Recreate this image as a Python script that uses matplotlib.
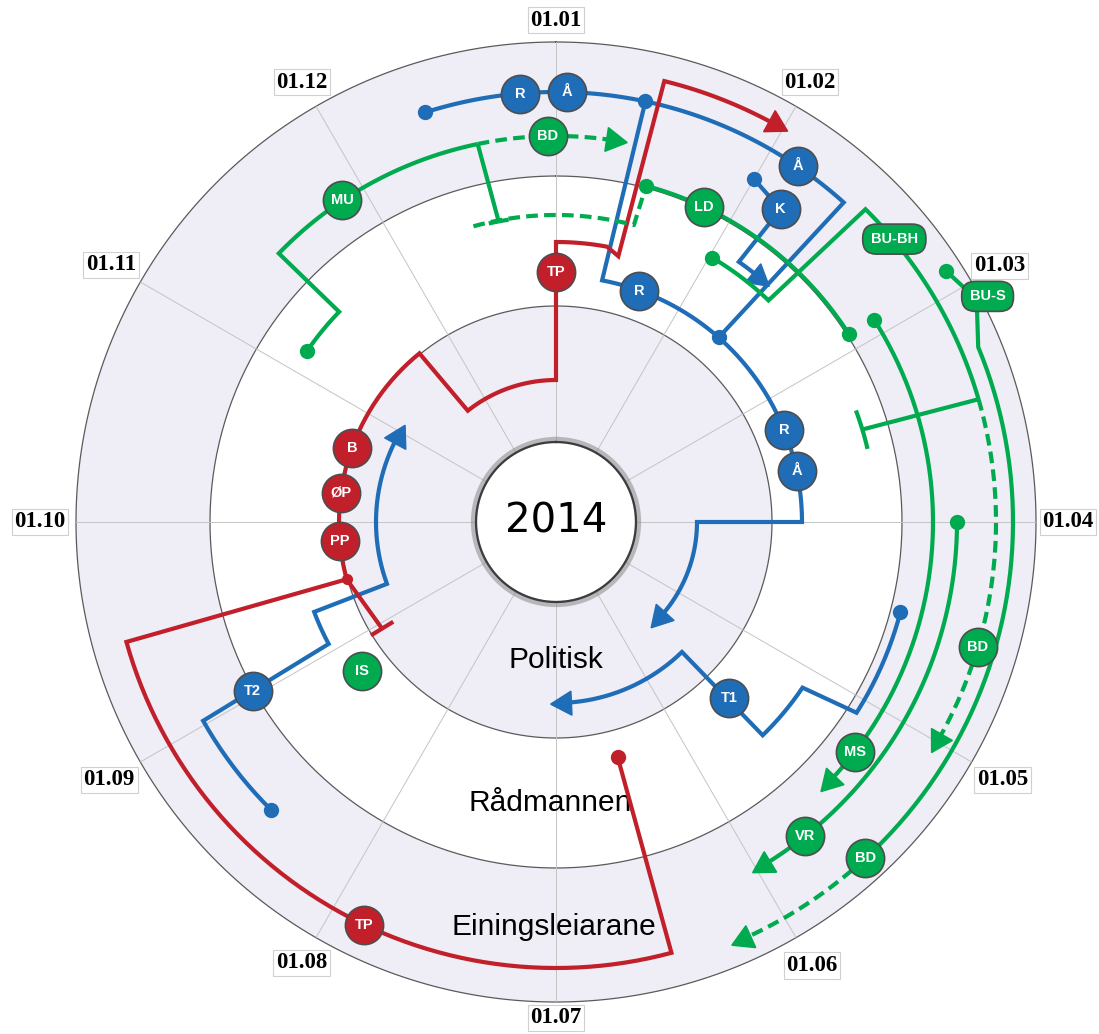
import numpy as np
import matplotlib
matplotlib.use('Agg')
import matplotlib.pyplot as plt

BLUE = '#1f6db6'
RED = '#c1202b'
GREEN = '#00aa4f'
RING = '#efedf5'
EDGE = '#4d4d4d'

# month labels round the wheel (01.01 at the top, clockwise)
months = ['01.01', '01.02', '01.03', '01.04', '01.05', '01.06',
          '01.07', '01.08', '01.09', '01.10', '01.11', '01.12']
month_label_r = [502, 508, 512, 512, 516, 512, 496, 509, 516, 516, 514, 508]

# ring boundaries and names
ring_r = [80, 216, 346, 480]
ring_names = ['Politisk', 'Rådmannen', 'Einingsleiarane']
ring_name_pos = [(6.00, 138), (6.04, 281), (6.01, 405)]

# paths as (month, radius) waypoints
blue_top = [(-0.59, 430), (1.40, 430), (1.38, 246)]
blue_mid = [(0.40, 430), (0.36, 246), (3.00, 246), (3.00, 141), (4.53, 141)]
blue_k = [(1.00, 396), (1.19, 385), (1.17, 318), (1.37, 318)]
blue_t1 = [(3.49, 356), (4.08, 356), (4.13, 297), (4.53, 297), (4.53, 181), (6.01, 181)]
blue_t2 = [(7.49, 405), (8.02, 405), (8.06, 258), (8.32, 258), (8.33, 180), (10.04, 180)]

red_top = [(0.00, 250), (0.00, 280), (0.35, 280), (0.44, 273), (0.46, 454), (1.00, 454)]
red_left = [(0.00, 250), (0.00, 142), (-1.28, 142), (-1.30, 217), (-3.51, 217), (-4.05, 204)]
red_bottom = [(-3.51, 217), (-3.52, 446), (-6.50, 446), (-6.49, 243)]

green_mu = [(-1.85, 302), (-1.53, 302), (-1.53, 386), (-0.39, 386)]
green_mu_dash = [(-0.39, 386), (0.33, 386)]
green_mu_stop = [(-0.39, 386), (-0.36, 306)]
green_ld_dash = [(-0.52, 307), (0.49, 307), (0.50, 348)]
green_ld = [(0.50, 348), (1.91, 348)]
green_bh = [(1.02, 307), (1.46, 307), (1.49, 440), (2.46, 440)]
green_bh_dash = [(2.46, 440), (4.03, 440)]
green_bh_stop = [(2.46, 440), (2.44, 320)]
green_ms = [(1.92, 377), (4.49, 377)]
green_vr = [(3.00, 401), (5.00, 401)]
green_bus = [(1.91, 464), (2.07, 476), (2.25, 457), (4.58, 457)]
green_bus_dash = [(4.58, 457), (5.23, 457)]

# small end / junction dots
dots_blue = [(-0.59, 430), (0.40, 430), (1.38, 246), (1.00, 396), (3.49, 356), (7.49, 405)]
dots_red = [(-6.49, 243)]
dots_red_small = [(-3.51, 217)]
dots_green = [(-1.85, 302), (0.50, 348), (1.91, 348), (1.02, 307), (1.92, 377), (3.00, 401), (1.91, 464)]

# labelled nodes
node_labels = ['R', 'Å', 'Å', 'K', 'R', 'R', 'Å', 'T1', 'T2',
               'TP', 'B', 'ØP', 'PP', 'TP',
               'MU', 'BD', 'LD', 'IS', 'BD', 'MS', 'VR', 'BD']
node_month = [-0.16, 0.05, 1.14, 1.19, 0.66, 2.27, 2.60, 4.52, 8.03,
              0.00, 9.66, 9.26, 8.83, 6.85,
              10.88, 11.96, 0.84, 7.75, 3.55, 4.25, 4.72, 4.58]
node_r = [430, 430, 430, 385, 246, 246, 246, 247, 347,
          250, 217, 217, 217, 446,
          386, 386, 348, 245, 440, 377, 401, 457]
node_col = [BLUE] * 9 + [RED] * 5 + [GREEN] * 8

pill_labels = ['BU-BH', 'BU-S']
pill_month = [1.67, 2.08]
pill_r = [441, 487]


def m2t(m):
    return np.asarray(m, dtype=float) * np.pi / 6


def trace(pts):
    th, rr = [], []
    for (m0, r0), (m1, r1) in zip(pts[:-1], pts[1:]):
        if r0 == r1:
            n = max(2, int(abs(m1 - m0) * 60))
            sm = np.linspace(m0, m1, n)
            sr = np.full(n, float(r0))
        else:
            sm = np.array([m0, m1])
            sr = np.array([r0, r1], dtype=float)
        th.extend(m2t(sm))
        rr.extend(sr)
    return th, rr


def draw(ax, pts, color, dashed=False, arrow=False):
    pts = list(pts)
    if arrow:
        (m0, r0), (m1, r1) = pts[-2], pts[-1]
        sgn = np.sign(m1 - m0)
        mc = m1 - sgn * 9 / (r1 * np.pi / 6)
        pts[-1] = (mc, r1)
    th, rr = trace(pts)
    ls = (0, (2.8, 1.5)) if dashed else '-'
    ax.plot(th, rr, color=color, lw=3, ls=ls, solid_capstyle='butt',
            dash_capstyle='butt', solid_joinstyle='miter', zorder=3, clip_on=False)
    if arrow:
        theta = mc * 30
        phi = -theta if sgn > 0 else 180 - theta
        ax.plot(m2t(mc), r1, marker=(3, 0, phi - 90), ms=20, color=color,
                mec=color, zorder=3, clip_on=False)


def tcap(ax, m, r, color, half, orient):
    if orient == 'radial':
        ax.plot(m2t([m, m]), [r - half, r + half], color=color, lw=3, zorder=3)
    else:
        dm = half / (r * np.pi / 6)
        th = m2t(np.linspace(m - dm, m + dm, 10))
        ax.plot(th, np.full(10, r), color=color, lw=3, zorder=3)


fig = plt.figure(figsize=(10.99, 10.34), dpi=100)
ax = fig.add_axes([0.069154, 0.030948, 0.873522, 0.928433], projection='polar')
ax.set_theta_zero_location('N')
ax.set_theta_direction(-1)
ax.set_ylim(0, 480)
ax.set_axis_off()

# rings
ring_cols = [RING, 'white', RING]
for i, c in enumerate(ring_cols):
    ax.bar(0, ring_r[i + 1] - ring_r[i], width=2 * np.pi, bottom=ring_r[i],
           align='edge', color=c, lw=0, zorder=0)

full = np.linspace(0, 2 * np.pi, 400)
for rr_ in ring_r[1:]:
    ax.plot(full, np.full(400, rr_), color='#5a5a5a', lw=0.9, zorder=1, clip_on=False)

# spokes
for k in range(12):
    ax.plot(m2t([k, k]), [ring_r[0], ring_r[-1]], color='#c4c4c4', lw=0.7, zorder=1)

# centre disc
ax.bar(0, ring_r[0], width=2 * np.pi, bottom=0, align='edge', color='white', lw=0, zorder=1.2)
ax.plot(full, np.full(400, ring_r[0] + 2), color='#8a8a8a', lw=4.5, alpha=0.55, zorder=1.3)
ax.plot(full, np.full(400, ring_r[0]), color='#3c3c3c', lw=1.6, zorder=1.4)
ax.text(0, 0, '2014', ha='center', va='center', fontsize=29, family='DejaVu Sans', zorder=6)

for name, (m, r) in zip(ring_names, ring_name_pos):
    ax.text(m2t(m), r, name, ha='center', va='center', fontsize=21.5,
            family='Liberation Sans', zorder=2)

# month labels
for k, lab in enumerate(months):
    ax.text(m2t(k), month_label_r[k], lab, ha='center', va='center', fontsize=16.5,
            family='Liberation Serif', fontweight='bold', clip_on=False,
            bbox=dict(boxstyle='square,pad=0.12', fc='white', ec='#d0d0d0', lw=0.8))

# paths
draw(ax, blue_top, BLUE)
draw(ax, blue_mid, BLUE, arrow=True)
draw(ax, blue_k, BLUE, arrow=True)
draw(ax, blue_t1, BLUE, arrow=True)
draw(ax, blue_t2, BLUE, arrow=True)

draw(ax, red_top, RED, arrow=True)
draw(ax, red_left, RED)
tcap(ax, red_left[-1][0], red_left[-1][1], RED, 11, 'radial')
draw(ax, red_bottom, RED)

draw(ax, green_mu, GREEN)
draw(ax, green_mu_dash, GREEN, dashed=True, arrow=True)
draw(ax, green_mu_stop, GREEN)
tcap(ax, green_mu_stop[-1][0], green_mu_stop[-1][1], GREEN, 8, 'tangential')
draw(ax, green_ld_dash, GREEN, dashed=True)
draw(ax, green_ld, GREEN)
draw(ax, green_bh, GREEN)
draw(ax, green_bh_dash, GREEN, dashed=True, arrow=True)
draw(ax, green_bh_stop, GREEN)
tcap(ax, green_bh_stop[-1][0], green_bh_stop[-1][1], GREEN, 18, 'tangential')
draw(ax, green_ms, GREEN, arrow=True)
draw(ax, green_vr, GREEN, arrow=True)
draw(ax, green_bus, GREEN)
draw(ax, green_bus_dash, GREEN, dashed=True, arrow=True)

# dots
for pts, col, ms in [(dots_blue, BLUE, 10), (dots_red, RED, 10),
                     (dots_red_small, RED, 7), (dots_green, GREEN, 10)]:
    m, r = zip(*pts)
    ax.plot(m2t(m), r, 'o', ms=ms, color=col, mec=col, zorder=4, clip_on=False)

# nodes
for lab, m, r, col in zip(node_labels, node_month, node_r, node_col):
    ax.plot(m2t(m), r, 'o', ms=27.5, mfc=col, mec=EDGE, mew=1.2, zorder=5, clip_on=False)
    ax.text(m2t(m), r, lab, ha='center', va='center', color='white', fontsize=10.5,
            fontweight='bold', family='Liberation Sans', zorder=6)

for lab, m, r in zip(pill_labels, pill_month, pill_r):
    ax.text(m2t(m), r, lab, ha='center', va='center', color='white', fontsize=10.5,
            fontweight='bold', family='Liberation Sans', zorder=6, clip_on=False,
            bbox=dict(boxstyle='round,pad=0.55,rounding_size=0.95', fc=GREEN, ec=EDGE, lw=1.2))

fig.savefig('out.png', dpi=100)
